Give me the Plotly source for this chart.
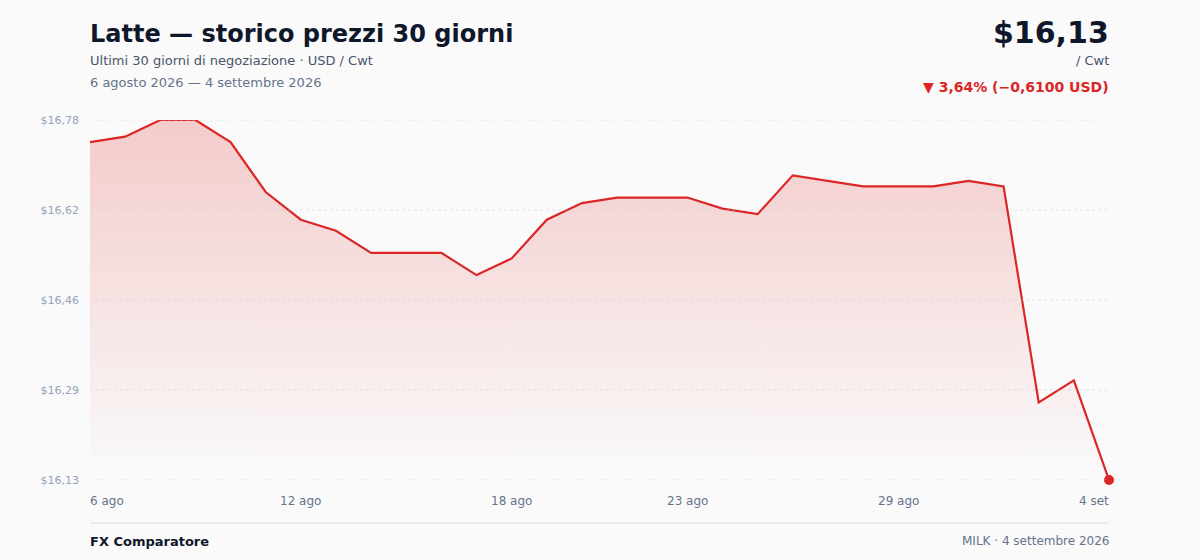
import pandas as pd
import plotly.graph_objects as go

# prezzi giornalieri latte (USD / Cwt), 6 ago - 4 set 2026
dates = pd.date_range("2026-08-06", "2026-09-04", freq="D")
prices = [16.74, 16.75, 16.78, 16.78, 16.74, 16.65, 16.60, 16.58, 16.54, 16.54,
          16.54, 16.50, 16.53, 16.60, 16.63, 16.64, 16.64, 16.64, 16.62, 16.61,
          16.68, 16.67, 16.66, 16.66, 16.66, 16.67, 16.66, 16.27, 16.31, 16.13]

y_tick_vals = [16.13, 16.2925, 16.455, 16.6175, 16.78]
y_tick_text = ["$16,13", "$16,29", "$16,46", "$16,62", "$16,78"]
x_tick_dates = ["2026-08-06", "2026-08-12", "2026-08-18", "2026-08-23", "2026-08-29", "2026-09-04"]
x_tick_text = ["6 ago", "12 ago", "18 ago", "23 ago", "29 ago", "4 set"]

RED = "#dc2626"
W, H = 1200, 560
ML, MR, MT, MB = 90, 91, 120, 80


def px(x, y):
    # pixel della pagina -> coordinate paper
    return (x - ML) / (W - ML - MR), 1 - (y - MT) / (H - MT - MB)


def label(x, y, text, size, color, anchor="left"):
    xp, yp = px(x, y)
    fig.add_annotation(x=xp, y=yp, xref="paper", yref="paper", text=text, showarrow=False,
                       xanchor=anchor, yanchor="middle", xshift=-2 if anchor == "left" else 2,
                       font=dict(size=size, color=color))


fig = go.Figure()
fig.add_trace(go.Scatter(
    x=dates, y=prices, mode="lines",
    line=dict(color=RED, width=2.2),
    fill="tozeroy",
    fillgradient=dict(type="vertical", start=16.13, stop=16.78,
                      colorscale=[[0, "rgba(220,38,38,0.0)"], [1, "rgba(220,38,38,0.22)"]]),
    hoverinfo="skip",
))
fig.add_trace(go.Scatter(
    x=[dates[-1]], y=[prices[-1]], mode="markers",
    marker=dict(color=RED, size=10),
    cliponaxis=False, hoverinfo="skip",
))

fig.update_layout(
    width=W, height=H,
    margin=dict(l=ML, r=MR, t=MT, b=MB),
    paper_bgcolor="#fafafa", plot_bgcolor="#fafafa",
    showlegend=False,
    font=dict(family="DejaVu Sans", color="#0f172a"),
)
fig.update_xaxes(
    range=[dates[0], dates[-1]], showgrid=False, zeroline=False,
    showticklabels=False, showline=False,
)
fig.update_yaxes(
    range=[16.13, 16.78], tickvals=y_tick_vals, ticktext=y_tick_text,
    showgrid=False, zeroline=False, showline=False,
    tickfont=dict(size=11, color="#94a3b8"), ticklabelstandoff=10,
)
# griglia punteggiata sopra l'area (come nel riferimento)
for v in y_tick_vals:
    fig.add_shape(type="line", xref="paper", yref="y", x0=0, x1=1, y0=v, y1=v, layer="above",
                  line=dict(color="rgba(200,200,210,0.45)", width=1, dash="dot"))

# etichette asse x (prima a sinistra, ultima a destra)
for i, (d, t) in enumerate(zip(x_tick_dates, x_tick_text)):
    anchor = "left" if i == 0 else ("right" if i == len(x_tick_text) - 1 else "center")
    shift = {"left": -2, "right": 2, "center": 0}[anchor]
    fig.add_annotation(x=d, y=px(0, 501)[1], xref="x", yref="paper", text=t, showarrow=False,
                       xanchor=anchor, yanchor="middle", xshift=shift,
                       font=dict(size=12, color="#64748b"))

# intestazione
label(90, 34, "<b>Latte — storico prezzi 30 giorni</b>", 24, "#0f172a")
label(90, 61, "Ultimi 30 giorni di negoziazione · USD / Cwt", 13, "#475569")
label(90, 83, "6 agosto 2026 — 4 settembre 2026", 13, "#64748b")
label(1109, 33, "<b>$16,13</b>", 30, "#0f172a", "right")
label(1109, 61, "/ Cwt", 13, "#475569", "right")
label(1109, 87, "<b>▼ 3,64% (−0,6100 USD)</b>", 14, RED, "right")

# piè di pagina
label(90, 541, "<b>FX Comparatore</b>", 13, "#0f172a")
label(1109, 541, "MILK · 4 settembre 2026", 12, "#64748b", "right")
x0, y0 = px(90, 523)
x1, _ = px(1109, 523)
fig.add_shape(type="line", xref="paper", yref="paper", x0=x0, x1=x1, y0=y0, y1=y0,
              line=dict(color="#e5e7eb", width=1.5))

fig.write_html("out.html", config={"displayModeBar": False},
               post_script="document.body.style.margin='0';")
